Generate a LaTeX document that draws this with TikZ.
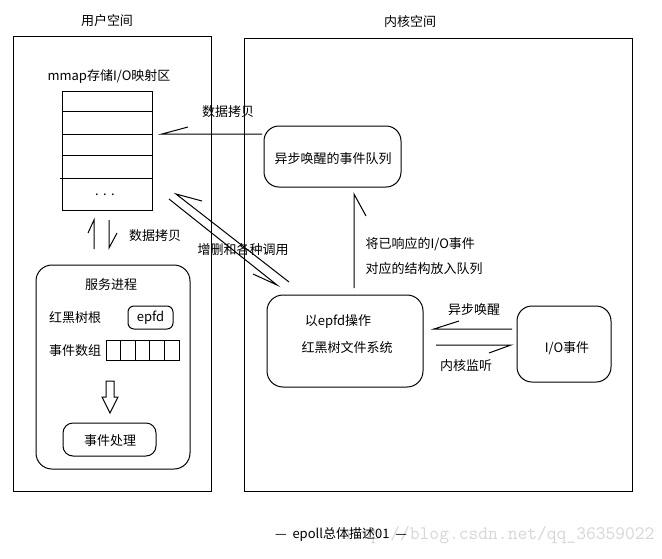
\documentclass[tikz,border=0pt]{standalone}
\usepackage{fontspec}
\setmainfont{Noto Sans CJK SC}
\begin{document}
\begin{tikzpicture}[x=1pt,y=-1pt,line width=1pt,
  lbl/.style={inner sep=0pt,font=\fontsize{13pt}{15pt}\selectfont},
  space/.style={draw,inner sep=0pt},
  rbox/.style={draw,inner sep=0pt,rounded corners=#1},
  cell/.style={draw,inner sep=0pt,minimum width=14.6pt,minimum height=20pt}]
\useasboundingbox (0,0) rectangle (662,558);
% spaces
\node[space,minimum width=198pt,minimum height=455pt] (user) at (112,263.5) {};
\node[space,minimum width=388pt,minimum height=453pt] (kernel) at (438,264.5) {};
\node[lbl] (userlbl) at (107,21) {用户空间};
\node[lbl] (kernlbl) at (410,22) {内核空间};
% mmap table
\node[lbl] (mmaplbl) at (109,77) {mmap存储I/O映射区};
\node[space,minimum width=90pt,minimum height=119pt] (mmap) at (107,150.5) {};
\draw (mmap.west |- 0,111) -- (mmap.east |- 0,111);
\draw (mmap.west |- 0,134) -- (mmap.east |- 0,134);
\draw (mmap.west |- 0,155) -- (mmap.east |- 0,155);
\draw (60,178) -- (mmap.east |- 0,178);
\node[lbl] (dots) at (105,195) {.\,\,.\,\,.};
% queue
\node[rbox=15pt,minimum width=137pt,minimum height=61pt] (queue) at (332.5,156.5) {};
\node[lbl] (queuelbl) at (333,159) {异步唤醒的事件队列};
% copy arrow queue -> mmap
\coordinate (c1a) at (262,134);
\coordinate (c1b) at (162,134);
\draw (c1a) -- (c1b) -- ++(26,-7);
\node[lbl] (copy1) at (228,112) {数据拷贝};
% service process
\node[rbox=16pt,minimum width=154pt,minimum height=204pt] (svc) at (113,367) {};
\node[lbl] (svclbl) at (111,285) {服务进程};
\node[lbl] (rootlbl) at (75,318) {红黑树根};
\node[rbox=6pt,minimum width=45pt,minimum height=23pt] (epfd) at (150.5,317.5) {};
\node[lbl] (epfdlbl) at (150.5,318) {epfd};
\node[lbl] (arrlbl) at (75,351) {事件数组};
\node[cell] (a1) at (113.3,350) {};
\node[cell] (a2) at (127.9,350) {};
\node[cell] (a3) at (142.5,350) {};
\node[cell] (a4) at (157.1,350) {};
\node[cell] (a5) at (171.7,350) {};
\draw (106,381) -- (114,381) -- (114,397) -- (118,397) -- (110,413) -- (102,397) -- (106,397) -- cycle;
\node[rbox=10pt,minimum width=93pt,minimum height=33pt] (handle) at (109.5,439.5) {};
\node[lbl] (handlelbl) at (110,441) {事件处理};
% copy arrows mmap <-> svc
\coordinate (u1a) at (94,249);
\coordinate (u1b) at (94,220);
\draw (u1a) -- (u1b) -- ++(-6,13);
\coordinate (d1a) at (109,220);
\coordinate (d1b) at (109,248);
\draw (d1a) -- (d1b) -- ++(8,-15);
\node[lbl] (copy2) at (155,236) {数据拷贝};
% rb tree
\node[rbox=16pt,minimum width=156pt,minimum height=92pt] (rbt) at (345,341) {};
\node[lbl] (rbt1) at (338,322) {以epfd操作};
\node[lbl] (rbt2) at (347,348) {红黑树文件系统};
% diagonal arrows
\coordinate (g1a) at (289,282);
\coordinate (g1b) at (176,194);
\draw (g1a) -- (g1b) -- ++(26,7);
\coordinate (g2a) at (169,199);
\coordinate (g2b) at (277,285);
\draw (g2a) -- (g2b) -- ++(-24,-11);
\node[lbl] (calls) at (243,250) {增删和各种调用};
% rbt -> queue
\coordinate (q1a) at (354,288);
\coordinate (q1b) at (354,194);
\draw (q1a) -- (q1b) -- ++(12,22);
\node[lbl,anchor=west] (put1) at (365,244) {将已响应的I/O事件};
\node[lbl,anchor=west] (put2) at (365,269) {对应的结构放入队列};
% I/O events
\node[rbox=15pt,minimum width=94pt,minimum height=76pt] (io) at (564,344) {};
\node[lbl] (iolbl) at (567,348) {I/O事件};
\coordinate (w1a) at (512,329);
\coordinate (w1b) at (434,329);
\draw (w1a) -- (w1b) -- ++(25,-8);
\node[lbl] (wake) at (474,310) {异步唤醒};
\coordinate (m1a) at (436,345);
\coordinate (m1b) at (511,345);
\draw (m1a) -- (m1b) -- ++(-22,8);
\node[lbl] (mon) at (466,366) {内核监听};
% caption and watermark
\node[inner sep=0pt,anchor=east,text=black!16,font=\fontsize{19pt}{22pt}\ttfamily] (wm) at (655,535) {http://blog.csdn.net/qq\_36359022};
\node[lbl] (cap) at (341,535) {—\ \ epoll总体描述01\ \ —};
\end{tikzpicture}
\end{document}
